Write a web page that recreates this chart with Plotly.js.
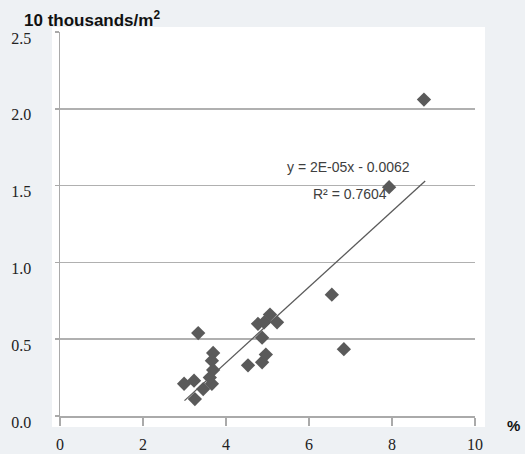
<!DOCTYPE html>
<html><head><meta charset="utf-8">
<script src="https://cdn.plot.ly/plotly-3.0.1.min.js"></script>
<style>html,body{margin:0;padding:0;background:#eef1f4;}</style>
</head><body>
<div id="chart" style="width:525px;height:454px;"></div>
<script>
const pctX = [3.33, 2.99, 3.23, 3.25, 3.45, 3.66, 3.69, 3.66, 3.69, 3.61, 4.53, 4.87, 4.96, 4.87, 4.77, 4.92, 5.06, 5.23, 6.55, 6.84, 7.93, 8.77];
const densityY = [0.54, 0.21, 0.23, 0.11, 0.175, 0.21, 0.41, 0.36, 0.30, 0.25, 0.33, 0.35, 0.40, 0.51, 0.60, 0.61, 0.66, 0.61, 0.79, 0.435, 1.49, 2.06];
const trendX = [3.0, 8.8];
const trendY = [0.10, 1.53];
const xTicks = [0, 2, 4, 6, 8, 10];
const yTicks = [0.0, 0.5, 1.0, 1.5, 2.0, 2.5];
const eqText = "y = 2E-05x - 0.0062";
const r2Text = "R² = 0.7604";

const W = 525, H = 454, L = 60, R = 50, T = 32, B = 38;
const pw = W - L - R, ph = H - T - B;
const px = v => (v - L) / pw;
const py = v => (H - B - v) / ph;

const data = [
  {x: trendX, y: trendY, mode: 'lines', type: 'scatter', line: {color: '#5a5a5a', width: 1.3}, hoverinfo: 'skip'},
  {x: pctX, y: densityY, mode: 'markers', type: 'scatter', marker: {symbol: 'diamond', size: 11, color: '#5a5a5a'}}
];
const serif = {family: '"Liberation Serif", "DejaVu Serif", serif', size: 16, color: '#222'};
const layout = {
  width: W, height: H,
  margin: {l: L, r: R, t: T, b: B, pad: 0},
  paper_bgcolor: '#eef1f4',
  plot_bgcolor: 'rgba(0,0,0,0)',
  showlegend: false,
  xaxis: {range: [0, 10], tickvals: xTicks, ticktext: xTicks.map(String), showgrid: false, zeroline: false,
    showline: true, linecolor: '#aaaaaa', linewidth: 1.5, ticks: 'outside', ticklen: 8, tickcolor: '#aaaaaa', tickwidth: 1.5,
    tickfont: serif, ticklabelstandoff: 5},
  yaxis: {range: [0, 2.5], tickvals: yTicks, ticktext: yTicks.map(v => v.toFixed(1)), showgrid: true, gridcolor: '#b0b0b0', gridwidth: 1.5,
    zeroline: false, showline: true, linecolor: '#aaaaaa', linewidth: 1.5, ticks: 'outside', ticklen: 4, tickcolor: '#aaaaaa', tickwidth: 1.5,
    tickfont: serif, ticklabelstandoff: 20, ticklabelshift: 6},
  shapes: [
    {type: 'rect', xref: 'paper', yref: 'paper', x0: px(52), x1: px(485), y0: py(427), y1: py(27), fillcolor: '#ffffff', line: {width: 0}, layer: 'below'}
  ],
  annotations: [
    {xref: 'paper', yref: 'paper', x: px(22), y: py(19), xanchor: 'left', yanchor: 'middle', showarrow: false,
      text: '<b>10 thousands/m<sup>2</sup></b>', font: {family: '"Liberation Sans", Arial, sans-serif', size: 17, color: '#111'}},
    {xref: 'paper', yref: 'paper', x: px(513), y: py(425), xanchor: 'center', yanchor: 'middle', showarrow: false,
      text: '<b>%</b>', font: {family: '"Liberation Sans", Arial, sans-serif', size: 15, color: '#111'}},
    {xref: 'paper', yref: 'paper', x: px(348), y: py(167), xanchor: 'center', yanchor: 'middle', showarrow: false,
      text: eqText, font: {family: '"Liberation Sans Narrow", "Liberation Sans", Arial, sans-serif', size: 14, color: '#404040'}},
    {xref: 'paper', yref: 'paper', x: px(350), y: py(194), xanchor: 'center', yanchor: 'middle', showarrow: false,
      text: r2Text, font: {family: '"Liberation Sans Narrow", "Liberation Sans", Arial, sans-serif', size: 14, color: '#404040'}}
  ]
};
Plotly.newPlot('chart', data, layout, {displayModeBar: false, staticPlot: true});
</script>
</body></html>
